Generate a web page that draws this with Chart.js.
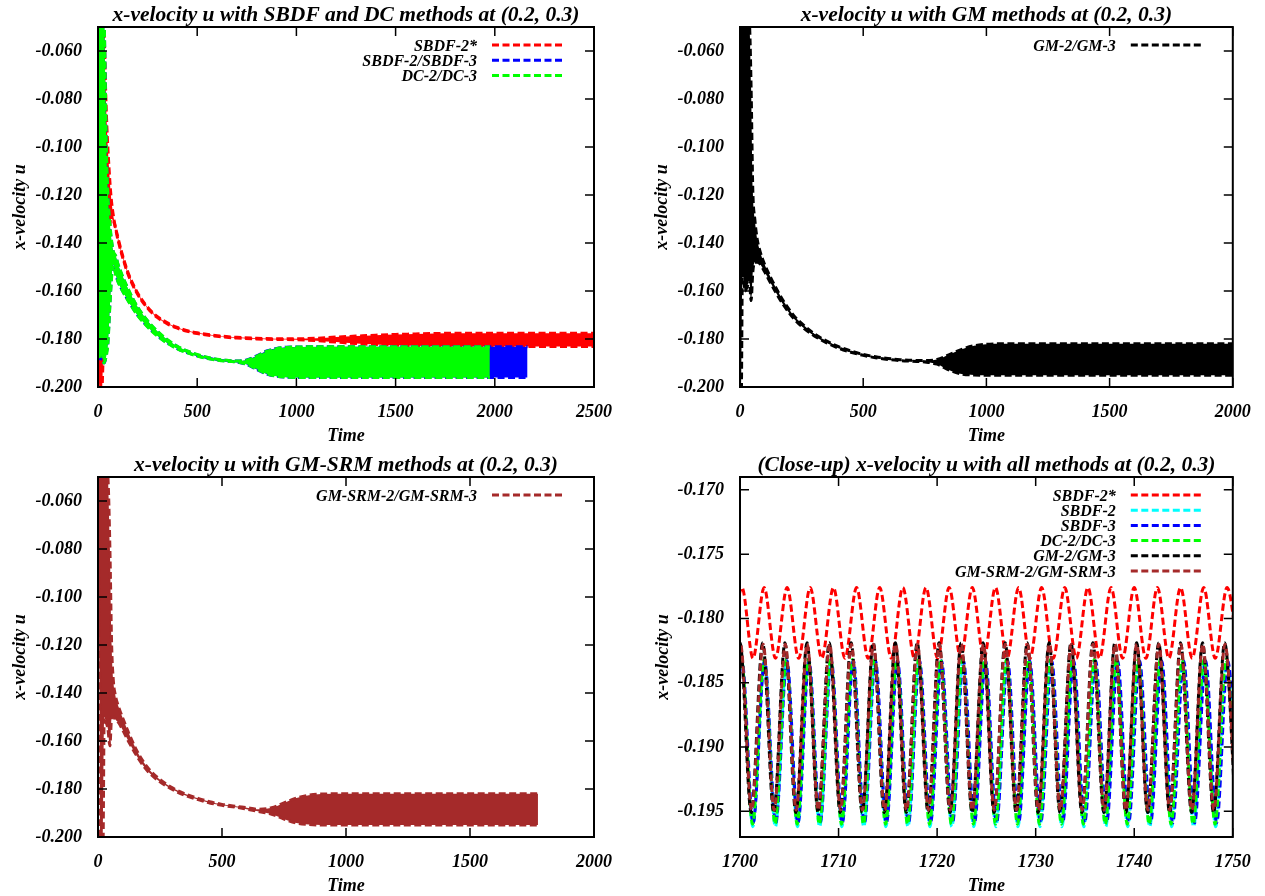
<!DOCTYPE html>
<html><head><meta charset="utf-8">
<script src="https://cdn.jsdelivr.net/npm/chart.js@4.4.1/dist/chart.umd.min.js"></script>
<style>
html,body{margin:0;padding:0;background:#fff;overflow:hidden;width:1265px;height:896px;position:relative;}
canvas{position:absolute;}
</style></head><body>
<canvas id="c1" width="632" height="450" style="left:0;top:0"></canvas>
<canvas id="c2" width="633" height="450" style="left:632px;top:0"></canvas>
<canvas id="c3" width="632" height="450" style="left:0;top:450px"></canvas>
<canvas id="c4" width="633" height="450" style="left:632px;top:450px"></canvas>
<script>
// ---------------- DATA ----------------
// axis ticks
const Y_TICKS_MAIN = [-0.200, -0.180, -0.160, -0.140, -0.120, -0.100, -0.080, -0.060];
const Y_TICKS_CU = [-0.195, -0.190, -0.185, -0.180, -0.175, -0.170];
const X_TICKS_2500 = [0, 500, 1000, 1500, 2000, 2500];
const X_TICKS_2000 = [0, 500, 1000, 1500, 2000];
const X_TICKS_CU = [1700, 1710, 1720, 1730, 1740, 1750];

// Panel 1 (SBDF & DC): envelope of the oscillating signal (upper / lower)
const TL_RED_T  = [0, 8, 12, 18, 25, 30, 38, 45, 55, 65, 80, 100, 120, 150, 187, 220, 260, 300, 350, 400, 450, 500, 600, 700, 800, 900, 1000, 1100, 1200, 1300, 1400, 1500, 1600, 1700, 1800, 2000, 2250, 2500];
const TL_RED_HI = [-0.045, -0.045, -0.045, -0.045, -0.045, -0.050, -0.075, -0.092, -0.108, -0.120, -0.1300, -0.1375, -0.1440, -0.1520, -0.1589, -0.1635, -0.1677, -0.1707, -0.1733, -0.1752, -0.1765, -0.1774, -0.1786, -0.1793, -0.1797, -0.1799, -0.1799, -0.1797, -0.1792, -0.1788, -0.1784, -0.1781, -0.1779, -0.1777, -0.1776, -0.1776, -0.1776, -0.1776];
const TL_RED_LO = [-0.090, -0.205, -0.205, -0.205, -0.190, -0.180, -0.165, -0.150, -0.137, -0.130, -0.1312, -0.1385, -0.1448, -0.1527, -0.1595, -0.1640, -0.1681, -0.1711, -0.1737, -0.1755, -0.1768, -0.1777, -0.1789, -0.1796, -0.1800, -0.1802, -0.1803, -0.1807, -0.1813, -0.1819, -0.1823, -0.1826, -0.1828, -0.1830, -0.1831, -0.1831, -0.1831, -0.1831];

const TL_BLUE_T  = [0, 5, 10, 20, 30, 36, 42, 50, 60, 70, 77, 90, 100, 150, 200, 300, 400, 500, 600, 700, 750, 800, 850, 900, 950, 1000, 1500, 2000, 2165];
const TL_BLUE_HI = [-0.045, -0.045, -0.045, -0.045, -0.045, -0.072, -0.102, -0.121, -0.133, -0.1405, -0.1438, -0.1458, -0.1488, -0.1590, -0.1669, -0.1770, -0.1831, -0.1866, -0.1885, -0.1892, -0.1887, -0.1870, -0.1850, -0.1839, -0.1834, -0.1833, -0.1832, -0.1832, -0.1832];
const TL_BLUE_LO = [-0.080, -0.186, -0.189, -0.187, -0.190, -0.189, -0.186, -0.181, -0.165, -0.152, -0.1488, -0.1532, -0.1558, -0.1636, -0.1700, -0.1786, -0.1840, -0.1870, -0.1887, -0.1896, -0.1906, -0.1927, -0.1946, -0.1955, -0.1959, -0.1960, -0.1960, -0.1960, -0.1960];

const TL_GREEN_T  = [0, 5, 10, 20, 30, 36, 42, 50, 60, 70, 77, 90, 100, 125, 150, 175, 200, 250, 300, 350, 400, 450, 500, 550, 600, 650, 700, 750, 800, 850, 900, 950, 1000, 1500, 1975];
const TL_GREEN_HI = [-0.045, -0.045, -0.045, -0.045, -0.045, -0.070, -0.100, -0.120, -0.132, -0.1400, -0.1435, -0.1455, -0.1485, -0.1540, -0.1588, -0.1630, -0.1667, -0.1724, -0.1768, -0.1803, -0.1830, -0.1850, -0.1864, -0.1876, -0.1884, -0.1889, -0.1892, -0.1888, -0.1872, -0.1852, -0.1840, -0.1835, -0.1833, -0.1832, -0.1832];
const TL_GREEN_LO = [-0.080, -0.185, -0.188, -0.186, -0.190, -0.189, -0.187, -0.182, -0.166, -0.153, -0.149, -0.1535, -0.1560, -0.1602, -0.1638, -0.1672, -0.1702, -0.1750, -0.1788, -0.1818, -0.1841, -0.1858, -0.1871, -0.1881, -0.1888, -0.1893, -0.1896, -0.1905, -0.1925, -0.1945, -0.1955, -0.1959, -0.1960, -0.1960, -0.1960];

// Panel 2 (GM)
const TR_GM_T  = [0, 5, 10, 20, 30, 38, 45, 52, 60, 70, 80, 100, 125, 150, 175, 200, 222, 250, 300, 350, 400, 450, 500, 550, 600, 650, 700, 750, 800, 850, 900, 950, 1000, 1050, 1500, 2000];
const TR_GM_HI = [-0.045, -0.045, -0.045, -0.045, -0.045, -0.048, -0.075, -0.118, -0.130, -0.1385, -0.1430, -0.1490, -0.1545, -0.1595, -0.1640, -0.1678, -0.1707, -0.1735, -0.1777, -0.1808, -0.1832, -0.1850, -0.1864, -0.1874, -0.1881, -0.1886, -0.1889, -0.1890, -0.1885, -0.1865, -0.1843, -0.1828, -0.1822, -0.1820, -0.1820, -0.1820];
const TR_GM_LO = [-0.205, -0.205, -0.150, -0.160, -0.158, -0.155, -0.164, -0.152, -0.148, -0.1480, -0.1485, -0.1520, -0.1568, -0.1614, -0.1656, -0.1692, -0.1719, -0.1747, -0.1786, -0.1815, -0.1838, -0.1855, -0.1868, -0.1878, -0.1885, -0.1890, -0.1893, -0.1896, -0.1905, -0.1930, -0.1946, -0.1950, -0.1951, -0.1951, -0.1951, -0.1951];

// Panel 3 (GM-SRM)
const BL_SRM_T  = [0, 6, 10, 14, 20, 25, 32, 40, 48, 55, 62, 70, 84, 100, 125, 164, 200, 243, 300, 350, 403, 450, 500, 563, 600, 640, 700, 750, 800, 850, 900, 1000, 1500, 1774];
const BL_SRM_HI = [-0.045, -0.045, -0.045, -0.045, -0.045, -0.045, -0.045, -0.050, -0.080, -0.120, -0.135, -0.141, -0.146, -0.1505, -0.1570, -0.1655, -0.1710, -0.1755, -0.1795, -0.1820, -0.1839, -0.1853, -0.1864, -0.1873, -0.1878, -0.1884, -0.1878, -0.1858, -0.1838, -0.1826, -0.1821, -0.1820, -0.1820, -0.1820];
const BL_SRM_LO = [-0.070, -0.130, -0.205, -0.205, -0.205, -0.150, -0.152, -0.155, -0.162, -0.150, -0.150, -0.151, -0.1525, -0.1555, -0.1605, -0.1675, -0.1725, -0.1765, -0.1802, -0.1826, -0.1844, -0.1858, -0.1868, -0.1877, -0.1884, -0.1892, -0.1905, -0.1925, -0.1942, -0.1948, -0.1950, -0.1950, -0.1950, -0.1950];

// Panel 4 (close-up): times of maxima / minima and their levels
const CU_LABELS   = ['SBDF-2*', 'SBDF-2', 'SBDF-3', 'DC-2/DC-3', 'GM-2/GM-3', 'GM-SRM-2/GM-SRM-3'];
const CU_PEAK_U   = [-0.1776, -0.1834, -0.1833, -0.1832, -0.1819, -0.1820];
const CU_TROUGH_U = [-0.1831, -0.1962, -0.1959, -0.1960, -0.1951, -0.1949];

const CU_SBDF2S_PEAK_T = [1700.2, 1702.45, 1704.78, 1707.12, 1709.48, 1711.83, 1714.17, 1716.52, 1718.87, 1721.22, 1723.57, 1725.92, 1728.27, 1730.6, 1732.95, 1735.3, 1737.65, 1740.0, 1742.35, 1744.7, 1747.05, 1749.42];
const CU_SBDF2S_TROUGH_T = [1699.05, 1701.32, 1703.6, 1705.95, 1708.3, 1710.65, 1713.0, 1715.35, 1717.7, 1720.05, 1722.4, 1724.75, 1727.1, 1729.43, 1731.78, 1734.12, 1736.48, 1738.82, 1741.18, 1743.52, 1745.88, 1748.22, 1750.6];

const CU_SBDF2_PEAK_T = [1700.17, 1702.47, 1704.72, 1706.96, 1709.22, 1711.45, 1713.69, 1715.93, 1718.15, 1720.38, 1722.61, 1724.85, 1727.08, 1729.32, 1731.54, 1733.77, 1736.0, 1738.22, 1740.45, 1742.68, 1744.92, 1747.14, 1749.38];
const CU_SBDF2_TROUGH_T = [1699.05, 1701.3, 1703.59, 1705.83, 1708.08, 1710.33, 1712.56, 1714.8, 1717.04, 1719.27, 1721.49, 1723.72, 1725.96, 1728.2, 1730.43, 1732.66, 1734.89, 1737.11, 1739.34, 1741.57, 1743.8, 1746.03, 1748.26, 1750.5];

const CU_SBDF3_PEAK_T = [1700.2, 1702.5, 1704.76, 1707.0, 1709.26, 1711.5, 1713.74, 1715.98, 1718.21, 1720.44, 1722.67, 1724.91, 1727.15, 1729.39, 1731.62, 1733.85, 1736.08, 1738.31, 1740.54, 1742.78, 1745.01, 1747.24, 1749.48];
const CU_SBDF3_TROUGH_T = [1699.08, 1701.33, 1703.63, 1705.88, 1708.13, 1710.38, 1712.62, 1714.86, 1717.1, 1719.33, 1721.56, 1723.79, 1726.03, 1728.27, 1730.51, 1732.74, 1734.97, 1737.2, 1739.43, 1741.66, 1743.9, 1746.13, 1748.36, 1750.6];

const CU_DC_PEAK_T = [1700.15, 1702.45, 1704.7, 1706.93, 1709.2, 1711.42, 1713.66, 1715.9, 1718.12, 1720.34, 1722.57, 1724.81, 1727.04, 1729.28, 1731.5, 1733.72, 1735.95, 1738.17, 1740.4, 1742.63, 1744.86, 1747.08, 1749.32];
const CU_DC_TROUGH_T = [1699.03, 1701.27, 1703.56, 1705.8, 1708.05, 1710.3, 1712.53, 1714.77, 1717.0, 1719.23, 1721.45, 1723.68, 1725.92, 1728.15, 1730.39, 1732.61, 1734.84, 1737.06, 1739.29, 1741.51, 1743.74, 1745.97, 1748.2, 1750.43];

const CU_GM_PEAK_T = [1700.0, 1702.3, 1704.56, 1706.8, 1709.06, 1711.27, 1713.52, 1715.76, 1717.98, 1720.2, 1722.43, 1724.67, 1726.9, 1729.14, 1731.36, 1733.58, 1735.8, 1738.03, 1740.25, 1742.48, 1744.7, 1746.93, 1749.17];
const CU_GM_TROUGH_T = [1698.88, 1701.14, 1703.43, 1705.67, 1707.93, 1710.17, 1712.4, 1714.64, 1716.87, 1719.09, 1721.31, 1723.55, 1725.78, 1728.02, 1730.25, 1732.47, 1734.69, 1736.92, 1739.14, 1741.36, 1743.59, 1745.82, 1748.05, 1750.28];

const CU_GMSRM_PEAK_T = [1700.05, 1702.35, 1704.6, 1706.82, 1709.1, 1711.3, 1713.55, 1715.8, 1718.0, 1720.22, 1722.45, 1724.7, 1726.92, 1729.18, 1731.38, 1733.6, 1735.82, 1738.05, 1740.25, 1742.5, 1744.73, 1746.95, 1749.2];
const CU_GMSRM_TROUGH_T = [1698.93, 1701.18, 1703.47, 1705.7, 1707.95, 1710.2, 1712.42, 1714.67, 1716.9, 1719.12, 1721.33, 1723.57, 1725.8, 1728.05, 1730.28, 1732.5, 1734.72, 1736.95, 1739.15, 1741.38, 1743.6, 1745.85, 1748.08, 1750.32];

// ---------------- STYLE ----------------
const FAMILY = "'Liberation Serif', 'Times New Roman', Times, serif";
const C_RED = '#ff0000', C_CYAN = '#00ffff', C_BLUE = '#0000ff', C_GREEN = '#00ff00', C_BLACK = '#000000', C_BROWN = '#a52a2a';
const DASH = [7, 3.5];
const LINE = { borderWidth: 3, borderDash: DASH, pointRadius: 0, pointHoverRadius: 0, tension: 0, cubicInterpolationMode: 'monotone' };
const TICK_FONT = { family: FAMILY, size: 18, weight: 'bold', style: 'italic' };
const AXIS_FONT = { family: FAMILY, size: 18, weight: 'bold', style: 'italic' };

Chart.defaults.color = '#000';

function band(label, color, T, HI, LO, order) {
  return [
    Object.assign({ label, legendEntry: true, data: T.map((t, i) => ({ x: t, y: HI[i] })), borderColor: color, backgroundColor: color, fill: false, order }, LINE),
    Object.assign({ label: label + ' (lower envelope)', data: T.map((t, i) => ({ x: t, y: LO[i] })), borderColor: color, backgroundColor: color, fill: '-1', order }, LINE)
  ];
}

function wave(label, color, peaksT, troughsT, peakU, troughU, order) {
  const pts = peaksT.map(t => ({ x: t, y: peakU })).concat(troughsT.map(t => ({ x: t, y: troughU })));
  pts.sort((a, b) => a.x - b.x);
  return Object.assign({ label, legendEntry: true, data: pts, borderColor: color, backgroundColor: color, fill: false, order }, LINE);
}

const decor = {
  id: 'decor',
  afterDraw(chart, args, opts) {
    const { ctx, chartArea: ca, scales } = chart;
    ctx.save();
    // inward ticks on all four sides
    ctx.strokeStyle = '#000';
    ctx.lineWidth = 1.5;
    ctx.setLineDash([]);
    const L = 9;
    ctx.beginPath();
    scales.x.ticks.forEach(t => {
      const p = scales.x.getPixelForValue(t.value);
      ctx.moveTo(p, ca.bottom); ctx.lineTo(p, ca.bottom - L);
      ctx.moveTo(p, ca.top); ctx.lineTo(p, ca.top + L);
    });
    scales.y.ticks.forEach(t => {
      const p = scales.y.getPixelForValue(t.value);
      ctx.moveTo(ca.left, p); ctx.lineTo(ca.left + L, p);
      ctx.moveTo(ca.right, p); ctx.lineTo(ca.right - L, p);
    });
    ctx.stroke();
    // frame
    ctx.lineWidth = 2;
    ctx.strokeRect(ca.left, ca.top, ca.right - ca.left, ca.bottom - ca.top);
    // panel title
    ctx.fillStyle = '#000';
    ctx.font = `italic bold 21.5px ${FAMILY}`;
    ctx.textAlign = 'center';
    ctx.textBaseline = 'alphabetic';
    ctx.fillText(opts.title, (ca.left + ca.right) / 2, 21);
    // key (text then line sample)
    ctx.font = `italic bold 16px ${FAMILY}`;
    ctx.textAlign = 'right';
    const entries = chart.data.datasets.filter(d => d.legendEntry);
    entries.forEach((d, i) => {
      const yc = ca.top + 18 + 15.2 * i;
      ctx.fillStyle = '#000';
      ctx.fillText(d.label, ca.right - 117, yc + 5.5);
      ctx.strokeStyle = d.borderColor;
      ctx.lineWidth = 3;
      ctx.setLineDash(DASH);
      ctx.beginPath();
      ctx.moveTo(ca.right - 102, yc);
      ctx.lineTo(ca.right - 31, yc);
      ctx.stroke();
      ctx.setLineDash([]);
    });
    ctx.restore();
  }
};

function makeChart(id, spec) {
  const canvas = document.getElementById(id);
  const W = canvas.width, H = canvas.height;
  return new Chart(canvas.getContext('2d'), {
    type: 'line',
    data: { datasets: spec.datasets },
    options: {
      responsive: false,
      animation: false,
      events: [],
      layout: { padding: { top: 27, right: W - spec.right, left: 0, bottom: 0 } },
      plugins: {
        legend: { display: false },
        tooltip: { enabled: false },
        title: { display: false },
        decor: { title: spec.title }
      },
      scales: {
        x: {
          type: 'linear', min: spec.xMin, max: spec.xMax,
          afterBuildTicks: s => { s.ticks = spec.xTicks.map(v => ({ value: v })); },
          afterFit: s => { s.height = H - 387; },
          grid: { display: false, drawTicks: false },
          border: { display: false },
          ticks: { font: TICK_FONT, color: '#000', padding: 14.2, maxRotation: 0, autoSkip: false, callback: v => String(v) },
          title: { display: true, text: 'Time', font: AXIS_FONT, color: '#000', padding: { top: 0, bottom: 3.2 } }
        },
        y: {
          type: 'linear', min: spec.yMin, max: spec.yMax,
          afterBuildTicks: s => { s.ticks = spec.yTicks.map(v => ({ value: v })); },
          afterFit: s => { s.width = spec.left; },
          grid: { display: false, drawTicks: false },
          border: { display: false },
          ticks: { font: TICK_FONT, color: '#000', padding: 16, autoSkip: false, callback: v => Number(v).toFixed(3) },
          title: { display: true, text: 'x-velocity u', font: AXIS_FONT, color: '#000', padding: { top: spec.yTitlePad, bottom: 0 } }
        }
      }
    },
    plugins: [decor]
  });
}

// Panel 1
makeChart('c1', {
  title: 'x-velocity u with SBDF and DC methods at (0.2, 0.3)',
  left: 98, right: 594, yTitlePad: 9.2,
  xMin: 0, xMax: 2500, xTicks: X_TICKS_2500,
  yMin: -0.2, yMax: -0.05, yTicks: Y_TICKS_MAIN,
  datasets: [].concat(
    band('SBDF-2*', C_RED, TL_RED_T, TL_RED_HI, TL_RED_LO, 3),
    band('SBDF-2/SBDF-3', C_BLUE, TL_BLUE_T, TL_BLUE_HI, TL_BLUE_LO, 2),
    band('DC-2/DC-3', C_GREEN, TL_GREEN_T, TL_GREEN_HI, TL_GREEN_LO, 1)
  )
});

// Panel 2
makeChart('c2', {
  title: 'x-velocity u with GM methods at (0.2, 0.3)',
  left: 108, right: 604, yTitlePad: 19.7,
  xMin: 0, xMax: 2000, xTicks: X_TICKS_2000,
  yMin: -0.2, yMax: -0.05, yTicks: Y_TICKS_MAIN,
  datasets: band('GM-2/GM-3', C_BLACK, TR_GM_T, TR_GM_HI, TR_GM_LO, 1)
});

// Panel 3
makeChart('c3', {
  title: 'x-velocity u with GM-SRM methods at (0.2, 0.3)',
  left: 98, right: 594, yTitlePad: 9.2,
  xMin: 0, xMax: 2000, xTicks: X_TICKS_2000,
  yMin: -0.2, yMax: -0.05, yTicks: Y_TICKS_MAIN,
  datasets: band('GM-SRM-2/GM-SRM-3', C_BROWN, BL_SRM_T, BL_SRM_HI, BL_SRM_LO, 1)
});

// Panel 4
const CU_PEAKS = [CU_SBDF2S_PEAK_T, CU_SBDF2_PEAK_T, CU_SBDF3_PEAK_T, CU_DC_PEAK_T, CU_GM_PEAK_T, CU_GMSRM_PEAK_T];
const CU_TROUGHS = [CU_SBDF2S_TROUGH_T, CU_SBDF2_TROUGH_T, CU_SBDF3_TROUGH_T, CU_DC_TROUGH_T, CU_GM_TROUGH_T, CU_GMSRM_TROUGH_T];
const CU_COLORS = [C_RED, C_CYAN, C_BLUE, C_GREEN, C_BLACK, C_BROWN];
makeChart('c4', {
  title: '(Close-up) x-velocity u with all methods at (0.2, 0.3)',
  left: 108, right: 604, yTitlePad: 20.5,
  xMin: 1700, xMax: 1750, xTicks: X_TICKS_CU,
  yMin: -0.197, yMax: -0.169, yTicks: Y_TICKS_CU,
  datasets: CU_LABELS.map((lab, i) => wave(lab, CU_COLORS[i], CU_PEAKS[i], CU_TROUGHS[i], CU_PEAK_U[i], CU_TROUGH_U[i], CU_LABELS.length - i))
});
</script>
</body></html>
